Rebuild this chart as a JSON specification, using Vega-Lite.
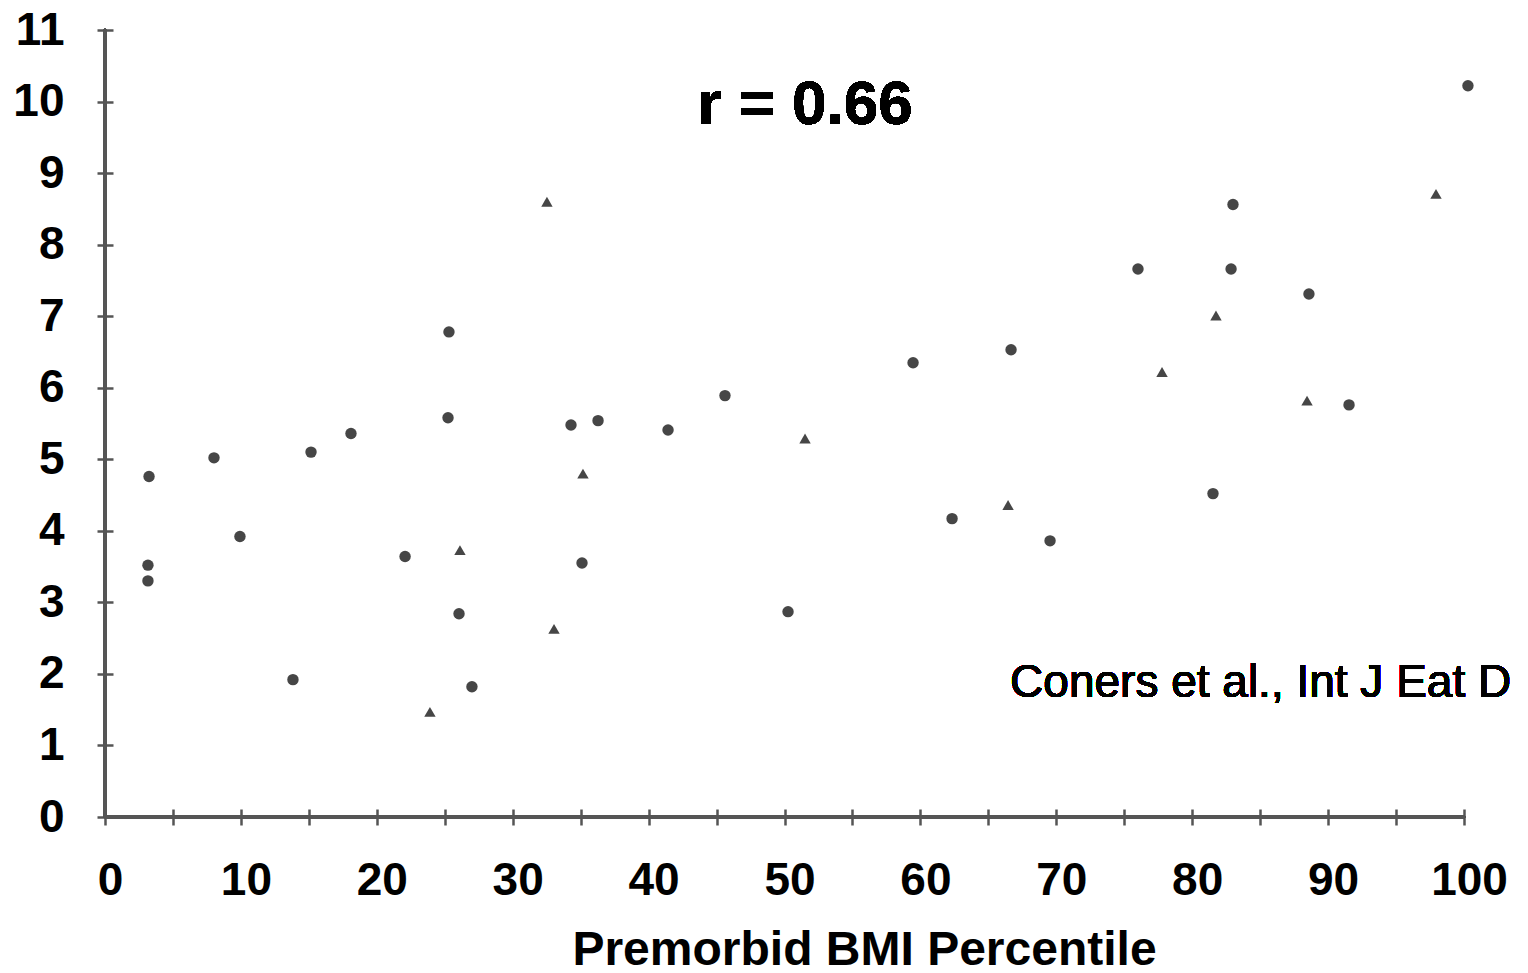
{
  "$schema": "https://vega.github.io/schema/vega-lite/v6.json",
  "autosize": "none",
  "width": 1359,
  "height": 787,
  "padding": {"left": 105, "top": 30, "right": 64, "bottom": 156},
  "background": "white",
  "config": {
    "view": {"stroke": null},
    "font": "Liberation Sans"
  },
  "data": {
    "values": [
      {"x": 3.24, "y": 4.76, "g": "circle"},
      {"x": 3.16, "y": 3.52, "g": "circle"},
      {"x": 3.16, "y": 3.30, "g": "circle"},
      {"x": 8.02, "y": 5.02, "g": "circle"},
      {"x": 9.93, "y": 3.92, "g": "circle"},
      {"x": 13.83, "y": 1.92, "g": "circle"},
      {"x": 15.16, "y": 5.10, "g": "circle"},
      {"x": 18.10, "y": 5.36, "g": "circle"},
      {"x": 22.08, "y": 3.64, "g": "circle"},
      {"x": 25.31, "y": 6.78, "g": "circle"},
      {"x": 25.24, "y": 5.58, "g": "circle"},
      {"x": 26.05, "y": 2.84, "g": "circle"},
      {"x": 27.00, "y": 1.82, "g": "circle"},
      {"x": 34.29, "y": 5.48, "g": "circle"},
      {"x": 35.10, "y": 3.55, "g": "circle"},
      {"x": 36.28, "y": 5.54, "g": "circle"},
      {"x": 41.43, "y": 5.41, "g": "circle"},
      {"x": 45.62, "y": 5.89, "g": "circle"},
      {"x": 50.26, "y": 2.87, "g": "circle"},
      {"x": 59.46, "y": 6.35, "g": "circle"},
      {"x": 62.33, "y": 4.17, "g": "circle"},
      {"x": 66.67, "y": 6.53, "g": "circle"},
      {"x": 69.54, "y": 3.86, "g": "circle"},
      {"x": 76.01, "y": 7.66, "g": "circle"},
      {"x": 81.53, "y": 4.52, "g": "circle"},
      {"x": 83.00, "y": 8.56, "g": "circle"},
      {"x": 82.86, "y": 7.66, "g": "circle"},
      {"x": 88.59, "y": 7.31, "g": "circle"},
      {"x": 91.54, "y": 5.76, "g": "circle"},
      {"x": 100.29, "y": 10.22, "g": "circle"},
      {"x": 32.52, "y": 8.60, "g": "triangle"},
      {"x": 26.12, "y": 3.73, "g": "triangle"},
      {"x": 35.17, "y": 4.80, "g": "triangle"},
      {"x": 33.04, "y": 2.63, "g": "triangle"},
      {"x": 23.91, "y": 1.47, "g": "triangle"},
      {"x": 51.51, "y": 5.29, "g": "triangle"},
      {"x": 66.45, "y": 4.36, "g": "triangle"},
      {"x": 77.78, "y": 6.22, "g": "triangle"},
      {"x": 81.75, "y": 7.01, "g": "triangle"},
      {"x": 88.45, "y": 5.82, "g": "triangle"},
      {"x": 97.94, "y": 8.71, "g": "triangle"}
    ]
  },
  "layer": [
    {
      "mark": {"type": "rule", "color": "#555555", "strokeWidth": 2.5, "strokeCap": "round"},
      "encoding": {
        "x": {"datum": 0, "type": "quantitative"}
      }
    },
    {
      "mark": {"type": "rule", "color": "#555555", "strokeWidth": 2.5, "strokeCap": "round"},
      "encoding": {
        "y": {"datum": 0, "type": "quantitative"}
      }
    },
    {
      "mark": {"type": "point", "filled": true, "size": 130, "color": "#464646", "opacity": 1, "clip": false},
      "encoding": {
        "x": {
          "field": "x", "type": "quantitative",
          "scale": {"domain": [0, 100], "nice": false, "zero": false},
          "axis": {
            "orient": "bottom",
            "offset": -8,
            "values": [0,5,10,15,20,25,30,35,40,45,50,55,60,65,70,75,80,85,90,95,100],
            "labelExpr": "datum.value % 10 === 0 ? format(datum.value, 'd') : ''",
            "grid": false,
            "domain": false,
            "tickColor": "#555555", "tickWidth": 2.5, "tickSize": 16,
            "labelFont": "Liberation Sans", "labelFontSize": 46, "labelFontWeight": "bold", "labelColor": "black",
            "labelPadding": 33, "labelOffset": 5, "labelOverlap": false, "labelFlush": false, "labelBound": false,
            "title": "Premorbid BMI Percentile",
            "titleFont": "Liberation Sans", "titleFontSize": 48, "titleFontWeight": "bold", "titleColor": "black",
            "titleX": 759, "titleY": 155, "titleBaseline": "alphabetic", "titleAlign": "center", "titleAnchor": null
          }
        },
        "y": {
          "field": "y", "type": "quantitative",
          "scale": {"domain": [0, 11], "nice": false, "zero": false},
          "axis": {
            "orient": "left",
            "offset": -8,
            "values": [0,0.5,1,1.5,2,2.5,3,3.5,4,4.5,5,5.5,6,6.5,7,7.5,8,8.5,9,9.5,10,10.5,11],
            "labelExpr": "datum.value % 1 === 0 ? format(datum.value, 'd') : ''",
            "grid": false,
            "domain": false,
            "tickColor": "#555555", "tickWidth": 2.5, "tickSize": 16,
            "labelFont": "Liberation Sans", "labelFontSize": 46, "labelFontWeight": "bold", "labelColor": "black",
            "labelPadding": 33, "labelOverlap": false, "labelFlush": false, "labelBound": false,
            "title": null
          }
        },
        "shape": {
          "field": "g", "type": "nominal",
          "scale": {"domain": ["circle", "triangle"], "range": ["circle", "triangle-up"]},
          "legend": null
        }
      }
    },
    {
      "mark": {"type": "text", "font": "Liberation Sans", "fontSize": 62, "fontWeight": "bold", "color": "black", "align": "center", "baseline": "alphabetic"},
      "encoding": {
        "x": {"datum": 51.5, "type": "quantitative"},
        "y": {"datum": 9.68, "type": "quantitative"},
        "text": {"value": "r = 0.66"}
      }
    },
    {
      "mark": {"type": "text", "font": "Liberation Sans", "fontSize": 46, "fontWeight": "normal", "color": "black", "align": "left", "baseline": "alphabetic"},
      "encoding": {
        "x": {"datum": 66.6, "type": "quantitative"},
        "y": {"datum": 1.68, "type": "quantitative"},
        "text": {"value": "Coners et al., Int J Eat D"}
      }
    }
  ]
}
